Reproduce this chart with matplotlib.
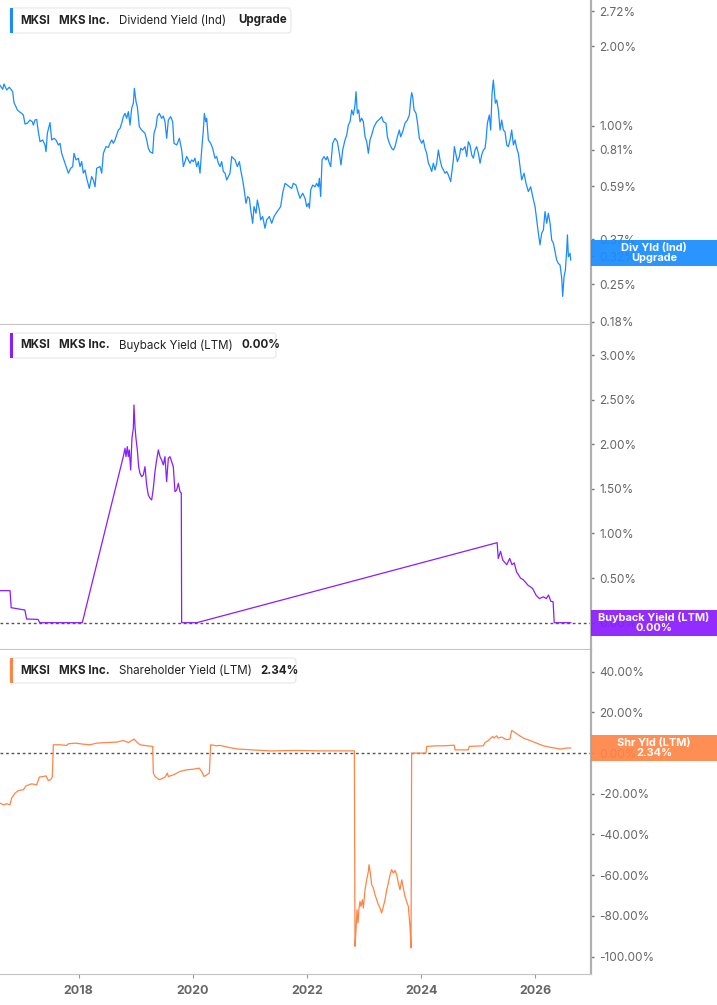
import matplotlib.pyplot as plt
from matplotlib.patches import FancyBboxPatch, Rectangle
from matplotlib.ticker import NullLocator, FixedLocator

plt.rcParams['font.family'] = ['Inter', 'DejaVu Sans']

# dividend yield (ind), %
div_x = [2016.620, 2016.671, 2016.694, 2016.741, 2016.787, 2016.846, 2016.869, 2016.904, 2016.928, 2016.963,
         2017.003, 2017.033, 2017.062, 2017.103, 2017.149, 2017.190, 2017.208, 2017.237, 2017.266, 2017.295,
         2017.325, 2017.371, 2017.412, 2017.430, 2017.453, 2017.500, 2017.529, 2017.570, 2017.605, 2017.646,
         2017.675, 2017.704, 2017.762, 2017.821, 2017.862, 2017.897, 2017.920, 2017.955, 2017.996, 2018.025,
         2018.054, 2018.083, 2018.113, 2018.142, 2018.188, 2018.229, 2018.258, 2018.288, 2018.317, 2018.375,
         2018.405, 2018.434, 2018.480, 2018.521, 2018.550, 2018.580, 2018.609, 2018.638, 2018.667, 2018.696,
         2018.726, 2018.755, 2018.784, 2018.813, 2018.842, 2018.872, 2018.901, 2018.930, 2018.959, 2018.977,
         2019.006, 2019.029, 2019.064, 2019.105, 2019.134, 2019.163, 2019.193, 2019.222, 2019.251, 2019.298,
         2019.321, 2019.356, 2019.379, 2019.414, 2019.455, 2019.484, 2019.514, 2019.543, 2019.572, 2019.613,
         2019.648, 2019.671, 2019.718, 2019.765, 2019.806, 2019.835, 2019.864, 2019.893, 2019.922, 2019.952,
         2019.981, 2020.010, 2020.039, 2020.068, 2020.097, 2020.127, 2020.156, 2020.185, 2020.203, 2020.226,
         2020.244, 2020.273, 2020.313, 2020.348, 2020.389, 2020.418, 2020.448, 2020.477, 2020.506, 2020.535,
         2020.565, 2020.594, 2020.623, 2020.652, 2020.681, 2020.740, 2020.781, 2020.816, 2020.839, 2020.874,
         2020.897, 2020.932, 2020.961, 2020.991, 2021.014, 2021.049, 2021.072, 2021.107, 2021.131, 2021.166,
         2021.189, 2021.224, 2021.265, 2021.294, 2021.341, 2021.382, 2021.423, 2021.458, 2021.498, 2021.539,
         2021.574, 2021.615, 2021.656, 2021.691, 2021.732, 2021.761, 2021.808, 2021.849, 2021.878, 2021.925,
         2021.966, 2021.995, 2022.024, 2022.042, 2022.065, 2022.100, 2022.141, 2022.170, 2022.199, 2022.217,
         2022.240, 2022.264, 2022.299, 2022.334, 2022.357, 2022.392, 2022.415, 2022.450, 2022.491, 2022.532,
         2022.567, 2022.596, 2022.625, 2022.666, 2022.696, 2022.725, 2022.754, 2022.783, 2022.812, 2022.841,
         2022.859, 2022.882, 2022.906, 2022.929, 2022.958, 2022.987, 2023.017, 2023.046, 2023.075, 2023.104,
         2023.133, 2023.174, 2023.221, 2023.268, 2023.308, 2023.338, 2023.384, 2023.408, 2023.443, 2023.484,
         2023.513, 2023.542, 2023.583, 2023.618, 2023.641, 2023.676, 2023.717, 2023.758, 2023.793, 2023.816,
         2023.834, 2023.851, 2023.875, 2023.910, 2023.933, 2023.968, 2024.009, 2024.038, 2024.067, 2024.097,
         2024.126, 2024.155, 2024.184, 2024.213, 2024.243, 2024.272, 2024.301, 2024.330, 2024.359, 2024.389,
         2024.418, 2024.447, 2024.476, 2024.517, 2024.534, 2024.564, 2024.581, 2024.605, 2024.634, 2024.669,
         2024.692, 2024.727, 2024.768, 2024.797, 2024.826, 2024.855, 2024.885, 2024.914, 2024.943, 2024.972,
         2025.001, 2025.031, 2025.060, 2025.089, 2025.118, 2025.136, 2025.159, 2025.194, 2025.217, 2025.241,
         2025.264, 2025.282, 2025.299, 2025.323, 2025.352, 2025.381, 2025.410, 2025.439, 2025.468, 2025.498,
         2025.527, 2025.556, 2025.585, 2025.615, 2025.644, 2025.673, 2025.702, 2025.731, 2025.760, 2025.801,
         2025.836, 2025.877, 2025.918, 2025.953, 2025.994, 2026.023, 2026.052, 2026.081, 2026.111, 2026.140,
         2026.169, 2026.198, 2026.227, 2026.257, 2026.286, 2026.315, 2026.344, 2026.373, 2026.402, 2026.432,
         2026.461, 2026.478, 2026.502, 2026.525, 2026.549, 2026.561, 2026.578, 2026.607, 2026.619]
div_y = [1.426, 1.373, 1.438, 1.365, 1.398, 1.345, 1.222, 1.178, 1.146, 1.129,
         1.113, 1.097, 1.014, 1.021, 1.050, 1.034, 1.005, 1.050, 1.056, 0.948,
         0.869, 0.882, 0.844, 0.796, 0.935, 1.027, 0.882, 0.895, 0.882, 0.844,
         0.857, 0.785, 0.720, 0.660, 0.689, 0.699, 0.785, 0.741, 0.752, 0.699,
         0.730, 0.660, 0.679, 0.631, 0.578, 0.641, 0.622, 0.586, 0.689, 0.699,
         0.660, 0.785, 0.832, 0.827, 0.857, 0.882, 0.857, 0.882, 0.921, 0.962,
         0.976, 1.021, 1.081, 1.113, 1.066, 1.129, 1.005, 1.162, 1.216, 1.385,
         1.233, 1.178, 0.990, 0.962, 0.948, 0.935, 0.882, 0.820, 0.796, 0.785,
         0.935, 0.990, 1.081, 1.113, 1.066, 1.087, 1.034, 0.895, 1.050, 1.081,
         1.034, 0.857, 0.844, 0.895, 0.808, 0.699, 0.730, 0.763, 0.741, 0.720,
         0.741, 0.730, 0.752, 0.699, 0.730, 0.660, 0.808, 0.962, 1.113, 1.034,
         1.066, 0.882, 0.857, 0.820, 0.752, 0.763, 0.720, 0.699, 0.730, 0.670,
         0.660, 0.622, 0.641, 0.660, 0.763, 0.741, 0.699, 0.730, 0.679, 0.622,
         0.578, 0.507, 0.538, 0.530, 0.479, 0.426, 0.493, 0.465, 0.522, 0.479,
         0.439, 0.452, 0.408, 0.439, 0.452, 0.426, 0.452, 0.465, 0.479, 0.493,
         0.554, 0.604, 0.595, 0.586, 0.578, 0.604, 0.595, 0.554, 0.530, 0.554,
         0.530, 0.493, 0.507, 0.486, 0.570, 0.595, 0.586, 0.604, 0.586, 0.631,
         0.538, 0.741, 0.763, 0.741, 0.763, 0.720, 0.699, 0.857, 0.895, 0.869,
         0.785, 0.709, 0.808, 0.882, 0.921, 1.005, 1.034, 1.146, 1.097, 1.197,
         1.345, 1.113, 1.146, 1.034, 1.066, 1.034, 0.907, 0.869, 0.785, 0.882,
         0.921, 0.990, 1.034, 1.056, 1.081, 1.034, 1.021, 0.907, 0.857, 0.820,
         0.808, 0.832, 0.907, 0.962, 0.907, 0.948, 1.021, 1.050, 1.097, 1.251,
         1.333, 1.288, 1.146, 1.113, 1.034, 0.895, 0.857, 0.882, 0.820, 0.785,
         0.720, 0.699, 0.670, 0.720, 0.679, 0.720, 0.808, 0.741, 0.699, 0.679,
         0.660, 0.670, 0.650, 0.613, 0.660, 0.741, 0.832, 0.785, 0.730, 0.763,
         0.820, 0.808, 0.832, 0.763, 0.869, 0.844, 0.774, 0.752, 0.808, 0.832,
         0.785, 0.720, 0.774, 0.808, 0.820, 0.882, 1.021, 1.097, 0.962, 1.325,
         1.489, 1.345, 1.216, 1.251, 1.146, 0.962, 1.050, 0.962, 0.948, 0.844,
         0.832, 0.882, 0.962, 0.844, 0.882, 0.820, 0.785, 0.699, 0.622, 0.660,
         0.604, 0.562, 0.586, 0.538, 0.493, 0.439, 0.391, 0.353, 0.391, 0.402,
         0.472, 0.426, 0.465, 0.426, 0.368, 0.358, 0.333, 0.309, 0.300, 0.296,
         0.264, 0.225, 0.267, 0.283, 0.338, 0.385, 0.318, 0.328, 0.309]
div_last = 0.33
div_ticks = [2.72, 2.00, 1.00, 0.81, 0.59, 0.37, 0.32, 0.25, 0.18]

# buyback yield (LTM), %
bb_x = [2016.620, 2016.800, 2016.820, 2017.060, 2017.090, 2017.290, 2017.320, 2018.065, 2018.783, 2018.813,
        2018.830, 2018.854, 2018.871, 2018.889, 2018.912, 2018.935, 2018.959, 2018.970, 2018.988, 2019.005,
        2019.029, 2019.052, 2019.075, 2019.105, 2019.134, 2019.163, 2019.192, 2019.221, 2019.251, 2019.280,
        2019.309, 2019.338, 2019.367, 2019.397, 2019.426, 2019.455, 2019.484, 2019.513, 2019.542, 2019.572,
        2019.601, 2019.630, 2019.659, 2019.688, 2019.718, 2019.747, 2019.776, 2019.799, 2019.805, 2020.070,
        2025.330, 2025.350, 2025.390, 2025.430, 2025.500, 2025.550, 2025.590, 2025.630, 2025.670, 2025.740,
        2025.790, 2025.870, 2025.950, 2026.010, 2026.070, 2026.140, 2026.190, 2026.230, 2026.270, 2026.310,
        2026.330, 2026.620]
bb_y = [0.359, 0.359, 0.168, 0.142, 0.041, 0.037, 0.0, 0.0, 1.861, 1.955,
        1.861, 1.973, 1.861, 1.936, 1.712, 2.067, 2.179, 2.441, 2.197, 2.067,
        1.936, 1.749, 1.675, 1.637, 1.656, 1.749, 1.544, 1.432, 1.395, 1.376,
        1.507, 1.693, 1.824, 1.936, 1.861, 1.824, 1.768, 1.861, 1.581, 1.843,
        1.861, 1.805, 1.749, 1.469, 1.488, 1.563, 1.469, 1.451, 0.0, 0.0,
        0.897, 0.72, 0.80, 0.70, 0.65, 0.72, 0.65, 0.67, 0.57, 0.50,
        0.48, 0.42, 0.385, 0.31, 0.27, 0.29, 0.27, 0.31, 0.24, 0.235,
        0.0, 0.0]
bb_last = 0.0
bb_ticks = [0.0, 0.5, 1.0, 1.5, 2.0, 2.5, 3.0]

# shareholder yield (LTM), %
sh_x = [2016.624, 2016.682, 2016.741, 2016.799, 2016.828, 2016.887, 2016.945, 2017.033, 2017.079, 2017.179,
        2017.266, 2017.313, 2017.383, 2017.430, 2017.470, 2017.511, 2017.541, 2017.558, 2017.675, 2017.792,
        2017.821, 2017.938, 2018.083, 2018.200, 2018.317, 2018.492, 2018.667, 2018.784, 2018.872, 2018.971,
        2019.029, 2019.076, 2019.193, 2019.298, 2019.309, 2019.339, 2019.415, 2019.514, 2019.555, 2019.572,
        2019.660, 2019.777, 2019.893, 2020.010, 2020.115, 2020.156, 2020.197, 2020.244, 2020.290, 2020.313,
        2020.418, 2020.477, 2020.628, 2020.788, 2021.028, 2021.348, 2021.829, 2022.229, 2022.830, 2022.841,
        2022.859, 2022.876, 2022.894, 2022.911, 2022.929, 2022.946, 2022.970, 2022.987, 2023.016, 2023.045,
        2023.075, 2023.086, 2023.110, 2023.133, 2023.162, 2023.191, 2023.221, 2023.250, 2023.279, 2023.308,
        2023.337, 2023.367, 2023.396, 2023.425, 2023.454, 2023.483, 2023.513, 2023.542, 2023.571, 2023.600,
        2023.629, 2023.659, 2023.688, 2023.717, 2023.746, 2023.775, 2023.804, 2023.822, 2023.833, 2024.084,
        2024.096, 2024.271, 2024.388, 2024.580, 2024.592, 2024.826, 2024.843, 2025.088, 2025.117, 2025.176,
        2025.252, 2025.275, 2025.322, 2025.351, 2025.409, 2025.497, 2025.555, 2025.585, 2025.643, 2025.701,
        2025.789, 2025.906, 2026.022, 2026.139, 2026.256, 2026.431, 2026.548, 2026.618]
sh_y = [-24.6, -25.4, -24.9, -25.4, -22.1, -19.7, -18.4, -18.0, -16.1, -15.1,
        -15.6, -11.8, -11.5, -11.2, -13.5, -13.1, -11.5, 4.1, 4.1, 3.8,
        4.6, 4.9, 4.4, 4.1, 4.9, 5.2, 5.4, 6.2, 5.2, 6.9,
        5.2, 4.1, 3.6, 3.3, -9.8, -11.5, -13.1, -11.8, -9.8, -11.5,
        -10.7, -9.0, -8.2, -7.9, -7.4, -9.0, -11.5, -10.7, -9.8, 4.1,
        3.6, 3.8, 2.8, 2.0, 1.6, 1.1, 1.3, 1.1, 1.1, -95.0,
        -86.8, -77.0, -83.5, -76.2, -72.9, -75.4, -72.1, -76.2, -67.2, -62.3,
        -58.2, -54.9, -59.0, -64.7, -66.3, -69.6, -72.1, -74.5, -76.2, -78.6,
        -75.4, -72.1, -67.2, -63.9, -59.8, -57.3, -59.0, -57.7, -59.8, -63.9,
        -67.2, -62.3, -66.3, -70.5, -72.9, -75.4, -85.2, -95.8, 0.0, 0.0,
        3.3, 3.6, 3.6, 3.9, 1.6, 1.6, 3.3, 3.6, 5.2, 6.2,
        8.2, 7.4, 8.5, 7.4, 7.9, 6.6, 6.9, 11.1, 10.1, 9.0,
        7.4, 6.2, 4.9, 3.6, 2.9, 2.0, 2.5, 2.5]
sh_last = 2.34
sh_ticks = [-100, -80, -60, -40, -20, 0, 20, 40]

year_ticks = [2018, 2020, 2022, 2024, 2026]

blue = '#1a8cff'
purple = '#8a1cff'
orange = '#ff8547'

W, H = 717, 1005
fig = plt.figure(figsize=(W / 100, H / 100), dpi=100)


def panel(top, bottom):
    return fig.add_axes([0, (H - bottom) / H, 591 / W, (bottom - top) / H])


ax1 = panel(0, 324)
ax2 = panel(325, 649)
ax3 = panel(650, 974)

for ax in (ax1, ax2, ax3):
    ax.set_xlim(2016.624, 2026.974)
    ax.yaxis.tick_right()
    ax.spines['top'].set_visible(False)
    ax.spines['left'].set_visible(False)
    ax.spines['bottom'].set_color('#c4c4c4')
    ax.spines['right'].set_color('#b0b0b0')
    ax.spines['right'].set_linewidth(1.6)
    ax.tick_params(axis='y', which='both', length=2, width=1, color='#777',
                   pad=4, labelsize=8.5, labelcolor='#666')
    ax.xaxis.set_major_locator(FixedLocator(year_ticks))
    ax.tick_params(axis='x', length=3, color='#999', pad=5)

ax1.tick_params(axis='x', bottom=False, labelbottom=False)
ax2.tick_params(axis='x', bottom=False, labelbottom=False)
ax3.set_xticklabels([str(y) for y in year_ticks], fontsize=9, fontweight='bold', color='#666')

# top: log scale
ax1.plot(div_x, div_y, color=blue, lw=0.9)
ax1.set_yscale('log')
ax1.set_ylim(0.1768, 2.995)
ax1.yaxis.set_major_locator(FixedLocator(div_ticks))
ax1.yaxis.set_minor_locator(NullLocator())
ax1.set_yticklabels(['%.2f%%' % t for t in div_ticks])

# middle
ax2.plot(bb_x, bb_y, color=purple, lw=0.9, zorder=3)
ax2.axhline(0, color='#555', lw=1, ls=(0, (2, 2)), zorder=2)
ax2.set_ylim(-0.295, 3.337)
ax2.set_yticks(bb_ticks)
ax2.set_yticklabels(['%.2f%%' % t for t in bb_ticks])

# bottom
ax3.plot(sh_x, sh_y, color=orange, lw=0.9, zorder=3)
ax3.axhline(0, color='#555', lw=1, ls=(0, (2, 2)), zorder=2)
ax3.set_ylim(-108.6, 50.7)
ax3.set_yticks(sh_ticks)
ax3.set_yticklabels(['%.2f%%' % t for t in sh_ticks])


def fx(x):
    return x / W


def fy(y):
    return 1 - y / H


def legend(ax, top, parts, color, right):
    tf = fig.transFigure
    box = FancyBboxPatch((fx(10), fy(top + 33)), fx(right - 10), 25 / H,
                         boxstyle='round,pad=0,rounding_size=0.004',
                         transform=tf, fc='white', ec='#e6e6e6', lw=0.8,
                         clip_on=False, zorder=6)
    ax.add_patch(box)
    ax.add_patch(Rectangle((fx(10), fy(top + 33)), fx(3), 25 / H, transform=tf,
                           fc=color, ec='none', clip_on=False, zorder=7))
    prev = None
    for text, weight, gap in parts:
        if prev is None:
            prev = ax.text(fx(20), fy(top + 20.5), text, transform=tf, fontsize=8.3,
                           fontweight=weight, color='#222', va='center', ha='left', zorder=8)
        else:
            prev = ax.annotate(text, xy=(1, 0.5), xycoords=prev, xytext=(gap, 0),
                               textcoords='offset points', fontsize=8.3, fontweight=weight,
                               color='#222', va='center', ha='left',
                               annotation_clip=False, zorder=8)


legend(ax1, 0, [('MKSI', 'bold', 0), ('MKS Inc.', 'bold', 6.5),
                ('Dividend Yield (Ind)', 'normal', 6.5), ('Upgrade', 'bold', 9.0)], blue, 291)
legend(ax2, 325, [('MKSI', 'bold', 0), ('MKS Inc.', 'bold', 6.5),
                  ('Buyback Yield (LTM)', 'normal', 6.5), ('%.2f%%' % bb_last, 'bold', 6.5)], purple, 276)
legend(ax3, 650, [('MKSI', 'bold', 0), ('MKS Inc.', 'bold', 6.5),
                  ('Shareholder Yield (LTM)', 'normal', 6.5), ('%.2f%%' % sh_last, 'bold', 6.5)], orange, 296)


def value_tag(ax, val, label, color):
    yd = ax.transData.transform((2026.0, val))[1]
    y = H - yd
    fig.add_artist(Rectangle((fx(591), fy(y + 13)), fx(126), 26 / H,
                             transform=fig.transFigure, fc=color, ec='none', alpha=0.93, zorder=5))
    fig.text(fx(654), fy(y), label, fontsize=7.9, fontweight='bold', color='white',
             ha='center', va='center', linespacing=1.0, zorder=6)


value_tag(ax1, div_last, 'Div Yld (Ind)\nUpgrade', blue)
value_tag(ax2, bb_last, 'Buyback Yield (LTM)\n%.2f%%' % bb_last, purple)
value_tag(ax3, sh_last, 'Shr Yld (LTM)\n%.2f%%' % sh_last, orange)

fig.savefig('out.png', dpi=100)
